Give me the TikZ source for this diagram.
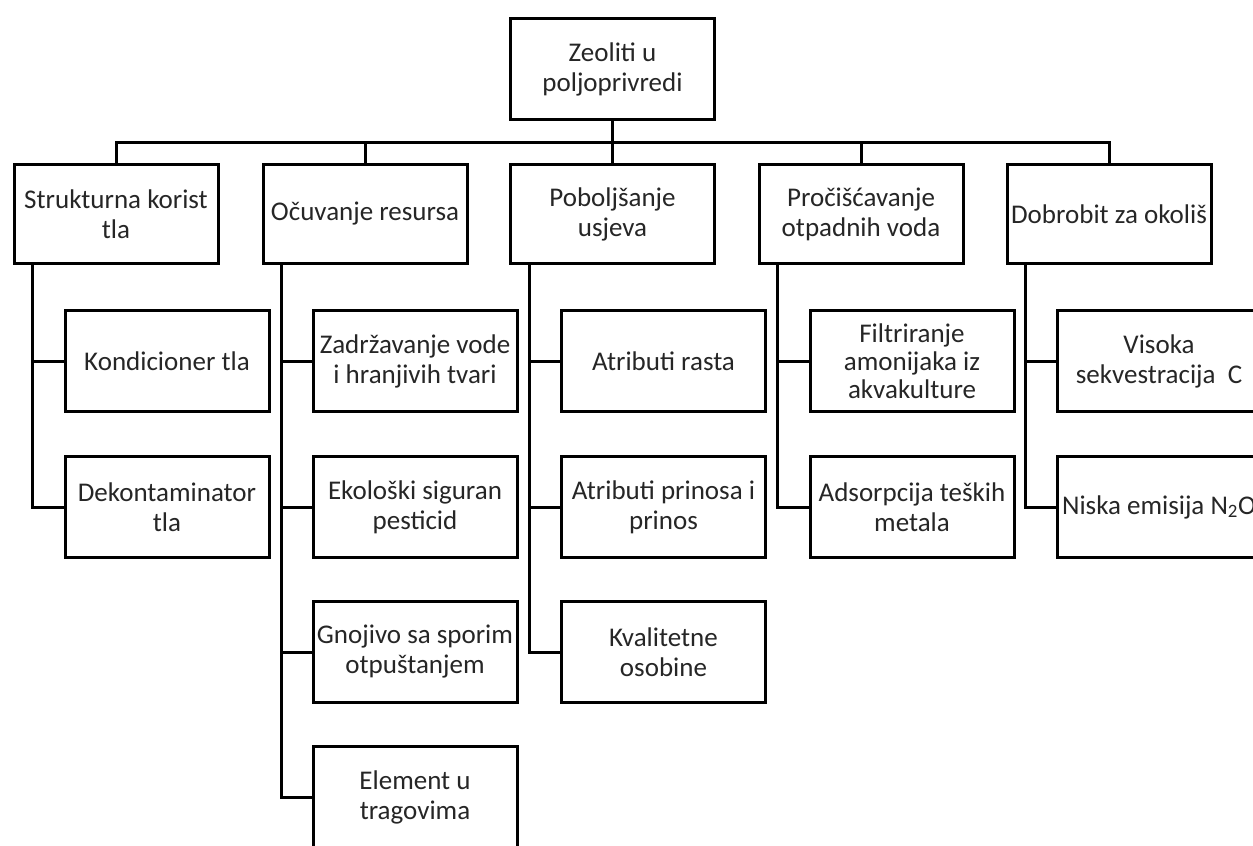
\documentclass[tikz,border=0pt]{standalone}
\usepackage{fontspec}
\setmainfont{Carlito}
\usetikzlibrary{calc}

\begin{document}
\begin{tikzpicture}[x=1pt, y=-1pt, line width=3pt,
	blok/.style={draw, fill=white, align=center, inner sep=2pt, text=black!85,
		minimum width=204pt, minimum height=99pt,
		font=\fontsize{27}{30}\selectfont},
	dete/.style={blok, minimum height=101pt}]
%	\draw[gray!50, dashed, step=50] (0,0) grid (1253,846);
	\clip (0,0) rectangle (1253,846);
	\node[blok, minimum height=101pt] (koren) at (612.5,69) {Zeoliti u\\poljoprivredi};
	
	\node[blok] (tlo) at (116,214) {Strukturna korist\\tla};
	\node[blok] (resursi) at (365,214) {Očuvanje resursa};
	\node[blok] (usjevi) at (612.5,214) {Poboljšanje\\usjeva};
	\node[blok] (voda) at (861,214) {Pročišćavanje\\otpadnih voda};
	\node[blok] (okolis) at (1109,214) {Dobrobit za okoliš};
	
	\node[dete] (kond) at (167,361) {Kondicioner tla};
	\node[dete] (dekont) at (167,507) {Dekontaminator\\tla};
	
	\node[dete] (zadrz) at (415,361) {Zadržavanje vode\\i hranjivih tvari};
	\node[dete] (pest) at (415,507) {Ekološki siguran\\pesticid};
	\node[dete] (gnoj) at (415,652) {Gnojivo sa sporim\\otpuštanjem};
	\node[dete] (elem) at (415,797) {Element u\\tragovima};
	
	\node[dete] (rast) at (663.5,361) {Atributi rasta};
	\node[dete] (prinos) at (663.5,507) {Atributi prinosa i\\prinos};
	\node[dete] (kval) at (663.5,652) {Kvalitetne\\osobine};
	
	\node[dete, font=\fontsize{27}{28}\selectfont] (amon) at (912,361) {Filtriranje\\amonijaka iz\\akvakulture};
	\node[dete] (metal) at (912,507) {Adsorpcija teških\\metala};
	
	\node[dete] (sekv) at (1159,361) {Visoka\\sekvestracija\ \ C};
	\node[dete] (emis) at (1159,507) {Niska emisija N\textsubscript{2}O};
	
	% sabirna linija
	\coordinate (sab) at (612.5,142.5);
	\draw (koren.south) -- (usjevi.north);
	\draw (tlo.north) |- (sab) -| (okolis.north);
	\draw (resursi.north) |- (sab);
	\draw (voda.north) |- (sab);
	
	\draw ([xshift=20pt]tlo.south west) |- (kond.west);
	\draw ([xshift=20pt]tlo.south west) |- (dekont.west);
	\draw ([xshift=20pt]resursi.south west) |- (zadrz.west);
	\draw ([xshift=20pt]resursi.south west) |- (pest.west);
	\draw ([xshift=20pt]resursi.south west) |- (gnoj.west);
	\draw ([xshift=20pt]resursi.south west) |- (elem.west);
	\draw ([xshift=20pt]usjevi.south west) |- (rast.west);
	\draw ([xshift=20pt]usjevi.south west) |- (prinos.west);
	\draw ([xshift=20pt]usjevi.south west) |- (kval.west);
	\draw ([xshift=20pt]voda.south west) |- (amon.west);
	\draw ([xshift=20pt]voda.south west) |- (metal.west);
	\draw ([xshift=20pt]okolis.south west) |- (sekv.west);
	\draw ([xshift=20pt]okolis.south west) |- (emis.west);
\end{tikzpicture}
\end{document}
